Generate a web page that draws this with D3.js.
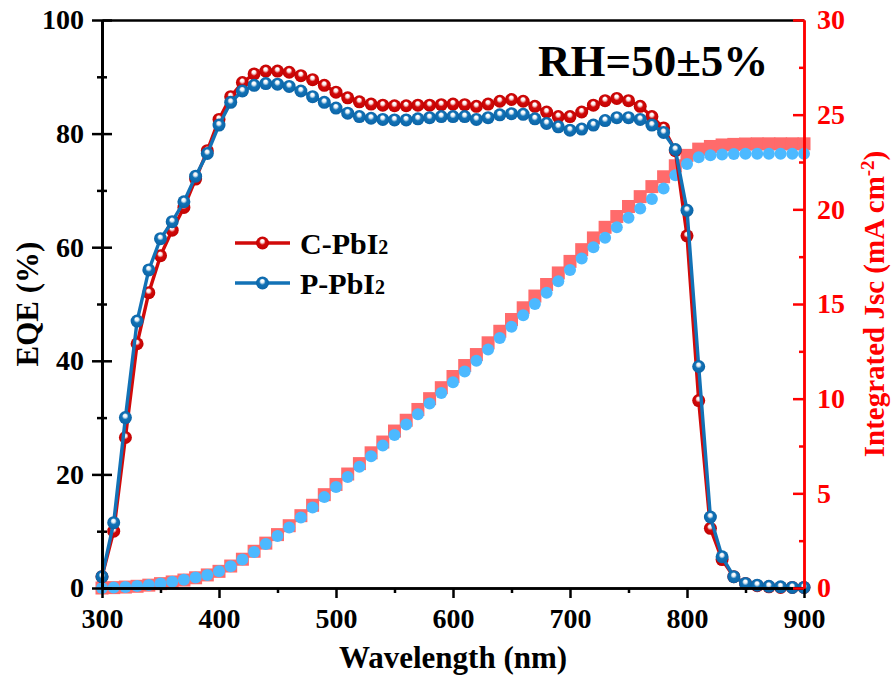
<!DOCTYPE html>
<html>
<head>
<meta charset="utf-8">
<script src="https://cdn.jsdelivr.net/npm/d3@7"></script>
<style>
  body { margin: 0; background: #fff; }
  svg text { font-family: "Liberation Serif", "Times New Roman", serif; font-weight: bold; }
</style>
</head>
<body>
<svg id="chart" width="896" height="680"></svg>
<script>
// wavelength grid (nm)
const wavelength = d3.range(300, 901, 10);

// EQE (%)
const eqeC = [2, 10, 26.5, 43, 52, 58.5, 63, 67, 72, 77, 82.5, 86.5, 89, 90.5, 91, 91, 90.8, 90.2, 89.5, 88.5,
  87.3, 86.3, 85.6, 85.2, 85, 84.9, 84.9, 85, 85, 85.1, 85.2, 85.1, 84.8, 85.2, 85.7, 86, 85.7, 84.8, 83.8, 83,
  83, 83.8, 85, 85.8, 86.2, 85.8, 84.8, 83, 81, 77, 62, 33, 10.5, 5, 2, 0.8, 0.4, 0.2, 0.1, 0.1, 0.1];
const eqeP = [2, 11.5, 30, 47, 56, 61.5, 64.5, 68, 72.5, 76.5, 81.5, 85.5, 87.5, 88.5, 88.8, 88.7, 88.3, 87.5, 86.5, 85.5,
  84.5, 83.6, 83, 82.7, 82.5, 82.4, 82.4, 82.6, 82.8, 83, 83, 83, 82.5, 82.8, 83.3, 83.5, 83.4, 82.6, 81.8, 81.2,
  80.6, 80.8, 81.5, 82.3, 82.8, 82.8, 82.5, 81.5, 80.2, 77.2, 66.5, 39, 12.5, 5.5, 2, 0.8, 0.5, 0.3, 0.2, 0.1, 0.1];

// Integrated Jsc (mA cm-2)
const jscC = [0, 0.02, 0.05, 0.09, 0.15, 0.23, 0.32, 0.42, 0.54, 0.69, 0.88, 1.16, 1.52, 1.94, 2.37, 2.82, 3.29, 3.82, 4.37, 4.93,
  5.47, 6.02, 6.57, 7.14, 7.71, 8.29, 8.86, 9.43, 10.0, 10.58, 11.17, 11.75, 12.33, 12.95, 13.56, 14.18, 14.8, 15.42, 16.03, 16.64,
  17.25, 17.87, 18.49, 19.05, 19.62, 20.15, 20.67, 21.2, 21.72, 22.3, 22.85, 23.18, 23.32, 23.4, 23.43, 23.45, 23.46, 23.46, 23.46, 23.46, 23.46];
const jscP = [0, 0.02, 0.05, 0.1, 0.16, 0.24, 0.33, 0.43, 0.55, 0.69, 0.88, 1.15, 1.5, 1.9, 2.32, 2.75, 3.2, 3.72, 4.25, 4.8,
  5.33, 5.86, 6.4, 6.96, 7.52, 8.08, 8.63, 9.18, 9.74, 10.3, 10.87, 11.43, 12.0, 12.6, 13.2, 13.8, 14.4, 15.0, 15.6, 16.2,
  16.8, 17.4, 18.0, 18.5, 19.05, 19.55, 20.05, 20.55, 21.1, 21.8, 22.4, 22.75, 22.85, 22.9, 22.92, 22.93, 22.93, 22.93, 22.93, 22.93, 22.93];

const xTicks = [300, 400, 500, 600, 700, 800, 900];
const xMinor = [350, 450, 550, 650, 750, 850];
const yTicks = [0, 20, 40, 60, 80, 100];
const yMinor = [10, 30, 50, 70, 90];
const y2Ticks = [0, 5, 10, 15, 20, 25, 30];
const y2Minor = [2.5, 7.5, 12.5, 17.5, 22.5, 27.5];

const seriesNames = ["C-PbI", "P-PbI"];

const svg = d3.select("#chart"),
      margin = {top: 20, right: 92, bottom: 92, left: 102},
      width = +svg.attr("width") - margin.left - margin.right,
      height = +svg.attr("height") - margin.top - margin.bottom;

const g = svg.append("g").attr("transform", `translate(${margin.left},${margin.top})`);

const x = d3.scaleLinear().domain([300, 900]).range([0, width]);
const y = d3.scaleLinear().domain([0, 100]).range([height, 0]);
const y2 = d3.scaleLinear().domain([0, 30]).range([height, 0]);

// gradients for 3D-ball markers
const defs = svg.append("defs");
function ball(id, base, dark) {
  const gr = defs.append("radialGradient").attr("id", id)
    .attr("cx", "50%").attr("cy", "50%").attr("r", "55%")
    .attr("fx", "48%").attr("fy", "32%");
  gr.append("stop").attr("offset", "0%").attr("stop-color", "#ffffff");
  gr.append("stop").attr("offset", "22%").attr("stop-color", "#ffffff").attr("stop-opacity", 0.9);
  gr.append("stop").attr("offset", "45%").attr("stop-color", base);
  gr.append("stop").attr("offset", "100%").attr("stop-color", dark);
}
ball("ballRed", "#d10a0a", "#c00000");
ball("ballBlue", "#1272b6", "#0a62a4");

// --- Integrated Jsc ---
const sq = 13;
g.selectAll("rect.jscC")
  .data(wavelength)
  .enter().append("rect")
    .attr("class", "jscC")
    .attr("x", (d, i) => x(d) - sq / 2)
    .attr("y", (d, i) => y2(jscC[i]) - sq / 2)
    .attr("width", sq)
    .attr("height", sq)
    .attr("fill", "#ff6b6b");

g.selectAll("circle.jscP")
  .data(wavelength)
  .enter().append("circle")
    .attr("class", "jscP")
    .attr("cx", d => x(d))
    .attr("cy", (d, i) => y2(jscP[i]))
    .attr("r", 6)
    .attr("fill", "#4cb9ff");

// --- EQE ---
function drawEqe(vals, color, grad) {
  const line = d3.line().x((d, i) => x(wavelength[i])).y(d => y(d));
  g.append("path")
    .datum(vals)
    .attr("fill", "none")
    .attr("stroke", color)
    .attr("stroke-width", 3.4)
    .attr("d", line);
  g.append("g").selectAll("circle")
    .data(vals)
    .enter().append("circle")
      .attr("cx", (d, i) => x(wavelength[i]))
      .attr("cy", d => y(d))
      .attr("r", 6.5)
      .attr("fill", `url(#${grad})`);
}
drawEqe(eqeC, "#d10a0a", "ballRed");
drawEqe(eqeP, "#1272b6", "ballBlue");

// --- Axes ---
function styleAxis(sel, color) {
  sel.select(".domain").attr("stroke", color).attr("stroke-width", 2.5);
  sel.selectAll(".tick line").attr("stroke", color).attr("stroke-width", 2.5);
  sel.selectAll(".tick text").attr("fill", color).style("font-size", "28px");
}

// bottom
g.append("g")
  .attr("transform", `translate(0,${height})`)
  .call(d3.axisBottom(x).tickValues(xMinor).tickSize(5).tickSizeOuter(0).tickFormat(""))
  .call(s => styleAxis(s, "#000"));
g.append("g")
  .attr("transform", `translate(0,${height})`)
  .call(d3.axisBottom(x).tickValues(xTicks).tickSize(10).tickSizeOuter(0).tickPadding(10))
  .call(s => styleAxis(s, "#000"));

// top border
g.append("g")
  .call(d3.axisTop(x).tickValues([]).tickSizeOuter(0))
  .call(s => styleAxis(s, "#000"));

// left (ticks crossing the axis)
g.append("g")
  .call(d3.axisRight(y).tickValues(yTicks).tickSize(10).tickSizeOuter(0).tickFormat(""))
  .call(s => styleAxis(s, "#000"));
g.append("g")
  .call(d3.axisRight(y).tickValues(yMinor).tickSize(5).tickSizeOuter(0).tickFormat(""))
  .call(s => styleAxis(s, "#000"));
g.append("g")
  .call(d3.axisLeft(y).tickValues(yMinor).tickSize(5).tickSizeOuter(0).tickFormat(""))
  .call(s => styleAxis(s, "#000"));
g.append("g")
  .call(d3.axisLeft(y).tickValues(yTicks).tickSize(10).tickSizeOuter(0).tickPadding(8))
  .call(s => styleAxis(s, "#000"));

// right (red, inward ticks)
g.append("g")
  .attr("transform", `translate(${width},0)`)
  .call(d3.axisRight(y2).tickValues(y2Minor).tickSize(-5).tickSizeOuter(0).tickFormat(""))
  .call(s => styleAxis(s, "#ff0000"));
g.append("g")
  .attr("transform", `translate(${width},0)`)
  .call(d3.axisRight(y2).tickValues(y2Ticks).tickSize(-11).tickSizeOuter(0).tickPadding(13))
  .call(s => styleAxis(s, "#ff0000"));

// --- Axis titles ---
svg.append("text")
  .attr("x", margin.left + width / 2)
  .attr("y", 668)
  .attr("text-anchor", "middle")
  .style("font-size", "31px")
  .text("Wavelength (nm)");

svg.append("text")
  .attr("transform", `translate(38,${margin.top + height / 2}) rotate(-90)`)
  .attr("text-anchor", "middle")
  .style("font-size", "31px")
  .text("EQE (%)");

const rt = svg.append("text")
  .attr("transform", `translate(884,${margin.top + height / 2}) rotate(-90)`)
  .attr("text-anchor", "middle")
  .attr("fill", "#ff0000")
  .style("font-size", "29px");
rt.append("tspan").text("Integrated Jsc (mA cm");
rt.append("tspan").attr("dy", -10).style("font-size", "19px").text("-2");
rt.append("tspan").attr("dy", 10).text(")");

// annotation
svg.append("text")
  .attr("x", 538)
  .attr("y", 76)
  .style("font-size", "45px")
  .text("RH=50±5%");

// --- Legend ---
const legend = svg.append("g").attr("transform", "translate(235,243)");
[["#d10a0a", "ballRed"], ["#1272b6", "ballBlue"]].forEach((c, i) => {
  const row = legend.append("g").attr("transform", `translate(0,${i * 40})`);
  row.append("line").attr("x1", 0).attr("x2", 55).attr("stroke", c[0]).attr("stroke-width", 3.4);
  row.append("circle").attr("cx", 27.5).attr("r", 6.5).attr("fill", `url(#${c[1]})`);
  const t = row.append("text").attr("x", 65).attr("y", 11).style("font-size", "30px");
  t.append("tspan").text(seriesNames[i]);
  t.append("tspan").attr("dy", 0).style("font-size", "20px").text("2");
});
</script>
</body>
</html>
